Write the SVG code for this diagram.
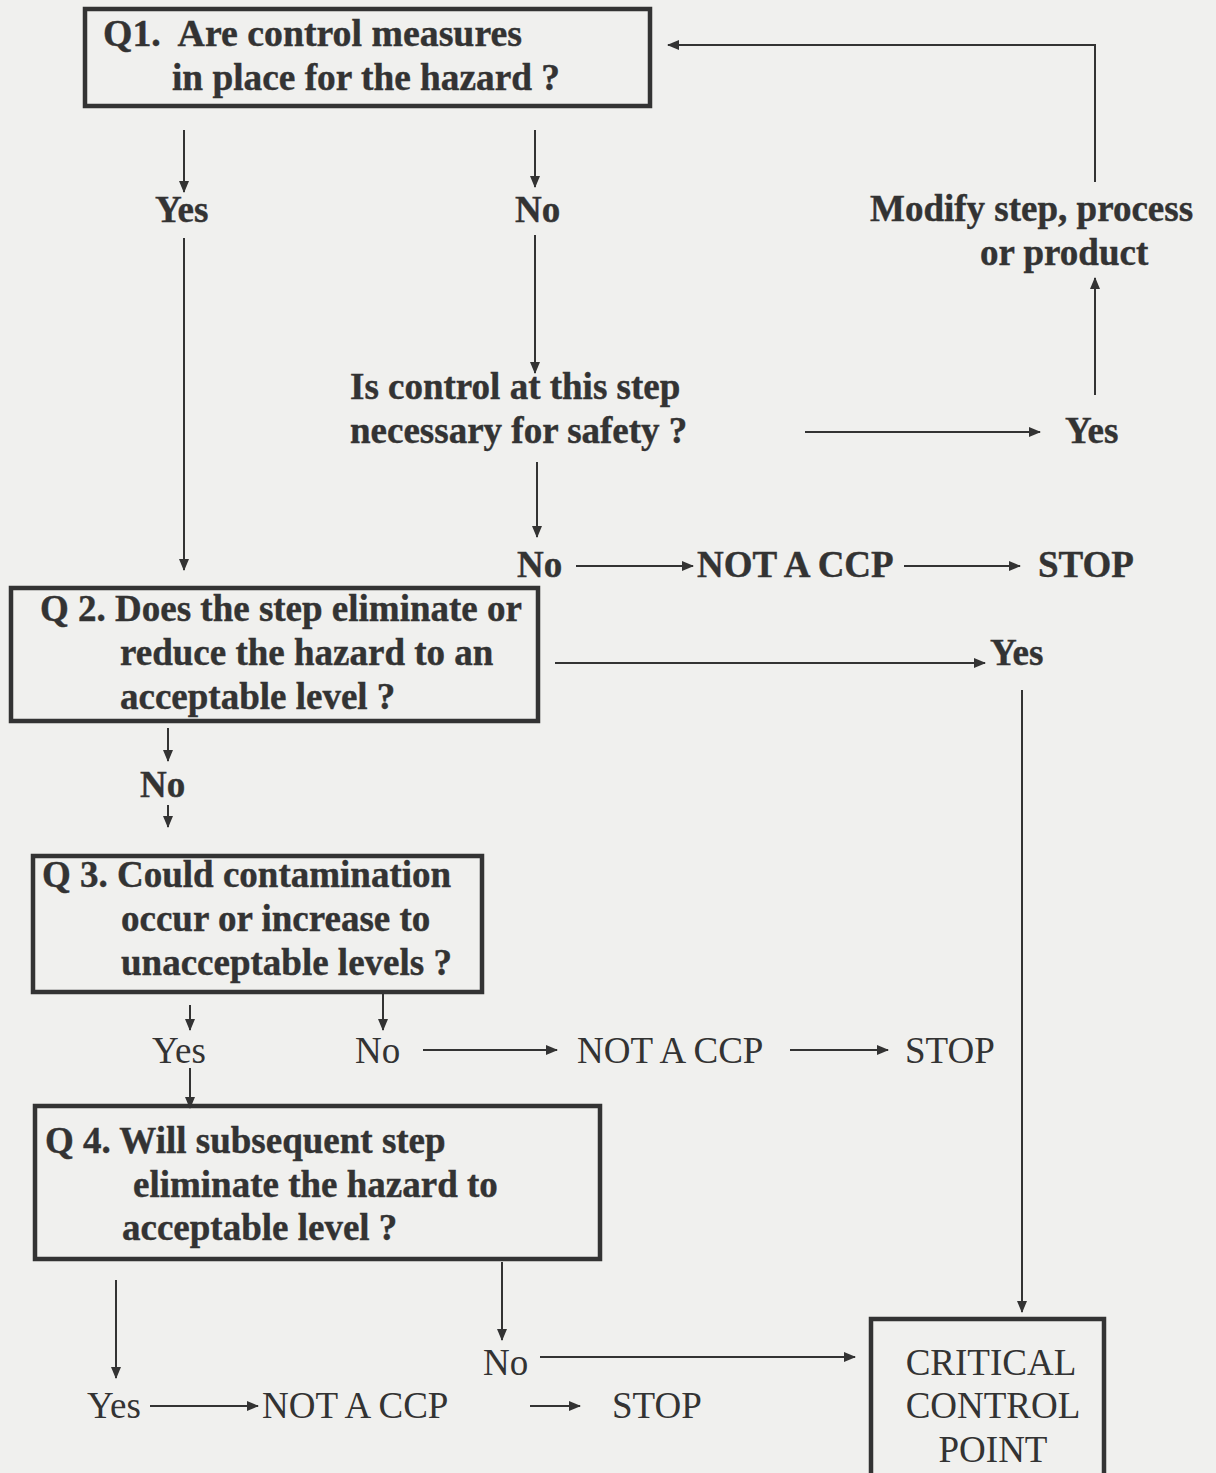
<svg xmlns="http://www.w3.org/2000/svg" width="1216" height="1473" viewBox="0 0 1216 1473">
<defs>
<marker id="ah" markerUnits="userSpaceOnUse" markerWidth="12" markerHeight="10" refX="11" refY="5" orient="auto">
<path d="M0,0 L12,5 L0,10 z" fill="#333"/>
</marker>
<style>
.b{font-family:"Liberation Serif","Times New Roman",serif;font-weight:bold;font-size:37px;fill:#333;stroke:#333;stroke-width:0.4}
.r{font-family:"Liberation Serif","Times New Roman",serif;font-size:37px;fill:#333}
.box{fill:none;stroke:#333;stroke-width:4.5}
.c{fill:none;stroke:#333;stroke-width:2;marker-end:url(#ah)}
</style>
</defs>
<rect width="1216" height="1473" fill="#f0f0ee"/>
<g id="q1">
<rect class="box" x="85" y="9" width="565" height="97"/>
<text class="b" x="103" y="46" textLength="419" lengthAdjust="spacingAndGlyphs">Q1.&#160; Are control measures</text>
<text class="b" x="172" y="90" textLength="388" lengthAdjust="spacingAndGlyphs">in place for the hazard ?</text>
</g>
<g id="q1yes"><text class="b" x="155" y="222">Yes</text></g>
<g id="q1no"><text class="b" x="515" y="222">No</text></g>
<g id="control">
<text class="b" x="350" y="399">Is control at this step</text>
<text class="b" x="350" y="443">necessary for safety ?</text>
</g>
<g id="ctlyes"><text class="b" x="1065" y="443">Yes</text></g>
<g id="modify">
<text class="b" x="870" y="221">Modify step, process</text>
<text class="b" x="980" y="265">or product</text>
</g>
<g id="ctlno"><text class="b" x="517" y="577">No</text></g>
<g id="notccp1"><text class="b" x="697" y="577">NOT A CCP</text></g>
<g id="stop1"><text class="b" x="1038" y="577">STOP</text></g>
<g id="q2">
<rect class="box" x="11" y="588" width="527" height="133"/>
<text class="b" x="40" y="621">Q 2. Does the step eliminate or</text>
<text class="b" x="120" y="665">reduce the hazard to an</text>
<text class="b" x="120" y="709">acceptable level ?</text>
</g>
<g id="q2yes"><text class="b" x="990" y="665">Yes</text></g>
<g id="q2no"><text class="b" x="140" y="797">No</text></g>
<g id="q3">
<rect class="box" x="33" y="856" width="449" height="136"/>
<text class="b" x="42" y="887">Q 3. Could contamination</text>
<text class="b" x="121" y="931">occur or increase to</text>
<text class="b" x="121" y="975">unacceptable levels ?</text>
</g>
<g id="q3yes"><text class="r" x="152" y="1063">Yes</text></g>
<g id="q3no"><text class="r" x="355" y="1063">No</text></g>
<g id="notccp2"><text class="r" x="577" y="1063">NOT A CCP</text></g>
<g id="stop2"><text class="r" x="905" y="1063">STOP</text></g>
<g id="q4">
<rect class="box" x="35" y="1106" width="565" height="153"/>
<text class="b" x="45" y="1153">Q 4. Will subsequent step</text>
<text class="b" x="133" y="1197">eliminate the hazard to</text>
<text class="b" x="122" y="1240">acceptable level ?</text>
</g>
<g id="q4no"><text class="r" x="483" y="1375">No</text></g>
<g id="q4yes"><text class="r" x="87" y="1418">Yes</text></g>
<g id="notccp3"><text class="r" x="262" y="1418">NOT A CCP</text></g>
<g id="stop3"><text class="r" x="612" y="1418">STOP</text></g>
<g id="ccp">
<rect class="box" x="871" y="1319" width="233" height="160"/>
<text class="r" x="991" y="1375" text-anchor="middle">CRITICAL</text>
<text class="r" x="993" y="1418" text-anchor="middle">CONTROL</text>
<text class="r" x="993" y="1462" text-anchor="middle">POINT</text>
</g>
<g id="connectors">
<line class="c" x1="184" y1="130" x2="184" y2="192"/>
<line class="c" x1="535" y1="130" x2="535" y2="187"/>
<line class="c" x1="184" y1="238" x2="184" y2="570"/>
<line class="c" x1="535" y1="235" x2="535" y2="373"/>
<line class="c" x1="805" y1="432" x2="1040" y2="432"/>
<line class="c" x1="1095" y1="395" x2="1095" y2="278"/>
<polyline class="c" points="1095,182 1095,45 668,45"/>
<line class="c" x1="537" y1="462" x2="537" y2="537"/>
<line class="c" x1="576" y1="566" x2="693" y2="566"/>
<line class="c" x1="904" y1="566" x2="1020" y2="566"/>
<line class="c" x1="555" y1="663" x2="985" y2="663"/>
<line class="c" x1="1022" y1="690" x2="1022" y2="1312"/>
<line class="c" x1="168" y1="728" x2="168" y2="761"/>
<line class="c" x1="168" y1="805" x2="168" y2="827"/>
<line class="c" x1="190" y1="1005" x2="190" y2="1030"/>
<line class="c" x1="383" y1="993" x2="383" y2="1030"/>
<line class="c" x1="423" y1="1050" x2="557" y2="1050"/>
<line class="c" x1="790" y1="1050" x2="888" y2="1050"/>
<line class="c" x1="190" y1="1068" x2="190" y2="1108"/>
<line class="c" x1="116" y1="1280" x2="116" y2="1378"/>
<line class="c" x1="502" y1="1262" x2="502" y2="1340"/>
<line class="c" x1="540" y1="1357" x2="855" y2="1357"/>
<line class="c" x1="150" y1="1406" x2="258" y2="1406"/>
<line class="c" x1="530" y1="1406" x2="580" y2="1406"/>
</g>
</svg>
